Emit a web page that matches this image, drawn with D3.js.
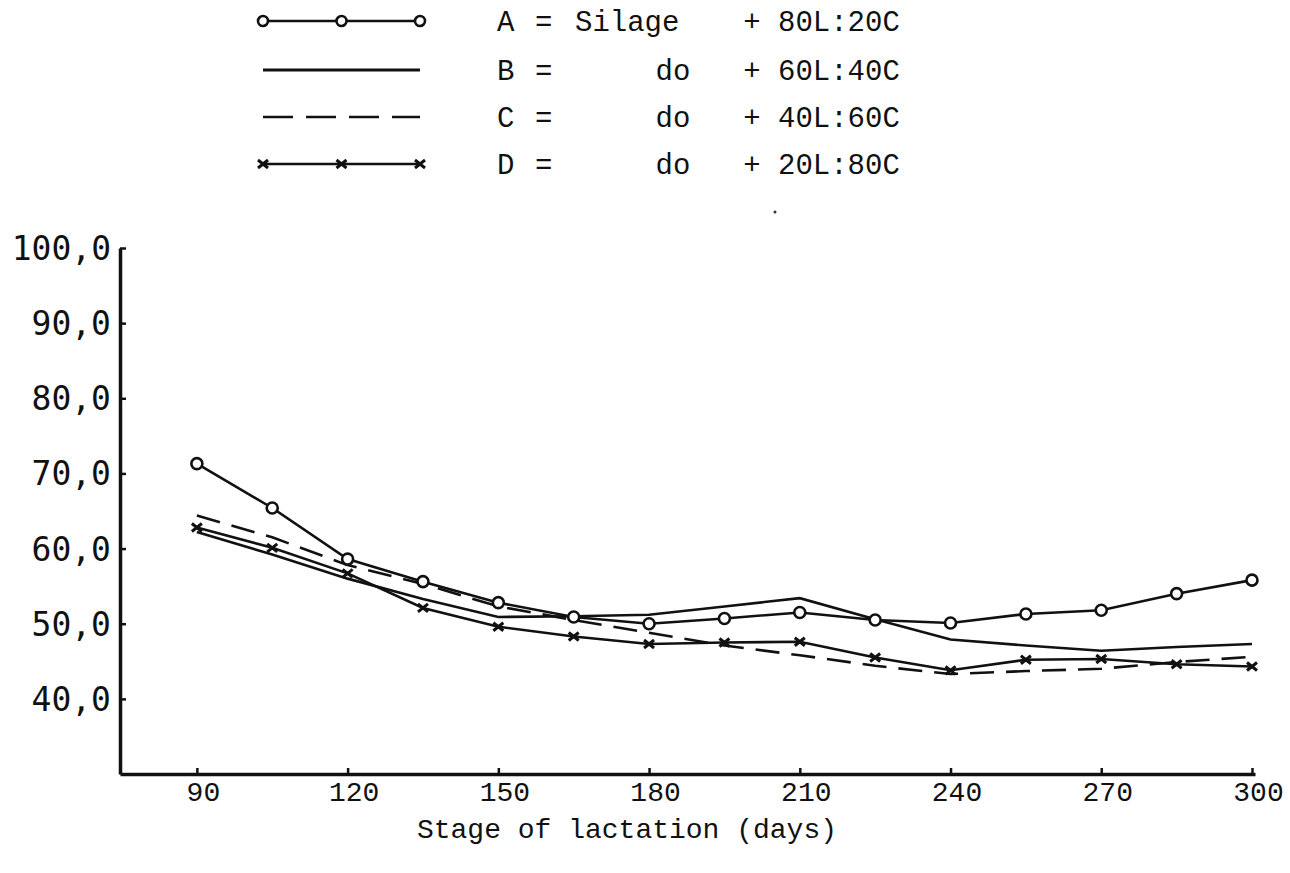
<!DOCTYPE html>
<html>
<head>
<meta charset="utf-8">
<script src="https://cdn.jsdelivr.net/npm/d3@7"></script>
<style>
    body { margin: 0; background: #fff; }
    svg text { fill: #111; }
</style>
</head>
<body>
<div id="chart"></div>
<script>
// stage of lactation (days)
const days = [90, 105, 120, 135, 150, 165, 180, 195, 210, 225, 240, 255, 270, 285, 300];

const seriesA = [71.3, 65.4, 58.6, 55.6, 52.8, 50.9, 50.0, 50.7, 51.5, 50.5, 50.1, 51.3, 51.8, 54.0, 55.8];
const seriesB = [62.2, 59.2, 56.0, 53.3, 50.9, 51.0, 51.2, 52.3, 53.4, 50.6, 47.9, 47.1, 46.4, 46.9, 47.3];
const seriesC = [64.4, 61.5, 57.8, 55.3, 52.3, 50.5, 48.8, 47.1, 45.8, 44.4, 43.3, 43.7, 44.0, 44.9, 45.6];
const seriesD = [62.8, 60.1, 56.7, 52.1, 49.6, 48.3, 47.3, 47.5, 47.6, 45.5, 43.8, 45.2, 45.3, 44.6, 44.3];

const xTicks = [90, 120, 150, 180, 210, 240, 270, 300];
const yTicks = [40, 50, 60, 70, 80, 90, 100];

const legendRows = [
    { key: "A", mid: "Silage", ratio: "80L:20C", mark: "circle" },
    { key: "B", mid: "do", ratio: "60L:40C", mark: "solid" },
    { key: "C", mid: "do", ratio: "40L:60C", mark: "dashed" },
    { key: "D", mid: "do", ratio: "20L:80C", mark: "cross" }
];

const width = 1290, height = 873;
const mono = "'Liberation Mono', 'DejaVu Sans Mono', monospace";
const labelFont = "'DejaVu Sans Mono', monospace";

const svg = d3.select("#chart")
    .append("svg")
    .attr("width", width)
    .attr("height", height)

const x = d3.scaleLinear().domain([74.7, 300.6]).range([120, 1255]);
const y = d3.scaleLinear().domain([30, 100]).range([774, 248]);

// axes
const yAxis = svg.append("g")
    .attr("transform", "translate(120,0)")
    .call(d3.axisLeft(y).tickValues(yTicks).tickSize(-6).tickSizeOuter(0).tickFormat(d => d + ",0"))

yAxis.select(".domain").attr("stroke", "#111").attr("stroke-width", 3.5)
yAxis.selectAll(".tick line").attr("stroke", "#111").attr("stroke-width", 2.5)
yAxis.selectAll(".tick text")
    .attr("x", -9)
    .attr("dy", "0.35em")
    .style("font-family", labelFont)
    .style("font-size", "33px")
    .attr("fill", "#111")

const xAxis = svg.append("g")
    .attr("transform", "translate(0,774)")
    .call(d3.axisBottom(x).tickValues(xTicks).tickSize(-6).tickSizeOuter(0))

xAxis.select(".domain").attr("stroke", "#111").attr("stroke-width", 3.5)
xAxis.selectAll(".tick line").attr("stroke", "#111").attr("stroke-width", 2.5)
xAxis.selectAll(".tick text")
    .attr("y", 27)
    .attr("dy", 0)
    .attr("dx", 6)
    .style("font-family", mono)
    .style("font-size", "28px")
    .attr("fill", "#111")

svg.append("text")
    .attr("x", 627)
    .attr("y", 838)
    .attr("text-anchor", "middle")
    .style("font-family", mono)
    .style("font-size", "28px")
    .text("Stage of lactation (days)")

// lines
const line = d3.line()
    .x((d, i) => x(days[i]))
    .y(d => y(d));

const plot = svg.append("g");

function drawSeries(values, dash) {
    plot.append("path")
        .datum(values)
        .attr("d", line)
        .attr("fill", "none")
        .attr("stroke", "#111")
        .attr("stroke-width", 2.6)
        .attr("stroke-dasharray", dash)
}

drawSeries(seriesB, null)
drawSeries(seriesC, "24,12")
drawSeries(seriesD, null)
drawSeries(seriesA, null)

function drawCross(g, cx, cy) {
    g.append("path")
        .attr("d", `M${cx - 5},${cy - 4}L${cx + 5},${cy + 4}M${cx - 5},${cy + 4}L${cx + 5},${cy - 4}`)
        .attr("stroke", "#111")
        .attr("stroke-width", 3)
        .attr("fill", "none")
}

seriesD.forEach((v, i) => drawCross(plot, x(days[i]), y(v)))

plot.selectAll("circle.a")
    .data(seriesA)
    .join("circle")
    .classed("a", true)
    .attr("cx", (d, i) => x(days[i]))
    .attr("cy", d => y(d))
    .attr("r", 5.5)
    .attr("fill", "#fff")
    .attr("stroke", "#111")
    .attr("stroke-width", 2.6)

// legend
const legend = svg.append("g");
const rowY = [21, 70, 117, 164];
const sx0 = 263, sx1 = 420;

legendRows.forEach((r, i) => {
    const g = legend.append("g").attr("transform", `translate(0,${rowY[i]})`);

    const seg = g.append("line")
        .attr("x1", sx0).attr("x2", sx1)
        .attr("y1", 0).attr("y2", 0)
        .attr("stroke", "#111")
        .attr("stroke-width", r.mark == "solid" ? 3 : 2.6)
    if (r.mark == "dashed") seg.attr("stroke-dasharray", "30,13");

    if (r.mark == "circle") {
        [sx0, (sx0 + sx1) / 2, sx1].forEach(cx => {
            g.append("circle")
                .attr("cx", cx).attr("cy", 0).attr("r", 5)
                .attr("fill", "#fff").attr("stroke", "#111").attr("stroke-width", 2.6)
        })
    }
    if (r.mark == "cross") {
        [sx0, (sx0 + sx1) / 2, sx1].forEach(cx => drawCross(g, cx, 0))
    }

    const t = g.append("g")
        .style("font-family", mono)
        .style("font-size", "29px")

    t.append("text").attr("x", 497).attr("dy", "0.35em").text(r.key)
    t.append("text").attr("x", 535).attr("dy", "0.35em").text("=")
    if (r.mid == "Silage") {
        t.append("text").attr("x", 575).attr("dy", "0.35em").text(r.mid)
    } else {
        t.append("text").attr("x", 673).attr("dy", "0.35em").attr("text-anchor", "middle").text(r.mid)
    }
    t.append("text").attr("x", 752).attr("dy", "0.35em").attr("text-anchor", "middle").text("+")
    t.append("text").attr("x", 778).attr("dy", "0.35em").text(r.ratio)
})

// stray dot near legend
svg.append("circle").attr("cx", 775).attr("cy", 212).attr("r", 1.5).attr("fill", "#333")
</script>
</body>
</html>
